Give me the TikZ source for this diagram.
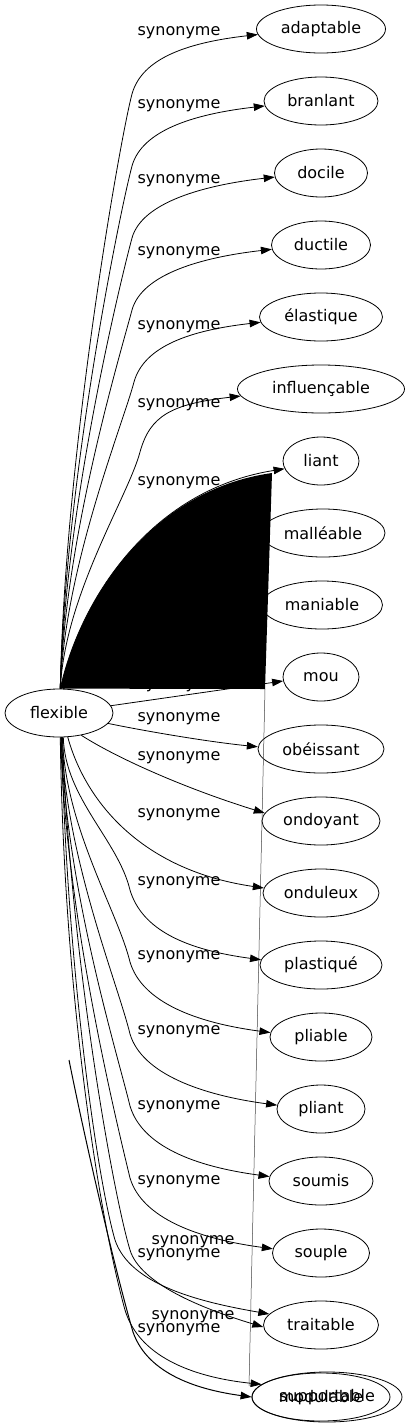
\documentclass[tikz,border=0pt]{standalone}
\usepackage{fontspec}
\setmainfont{DejaVu Sans}
\usetikzlibrary{shapes.geometric,arrows.meta}
\newcommand\synup[4]{%
  \draw[edge] (flexible.87) .. controls (65,{689-0.4*(689-#2)}) and ({#3-12},{#2+45}) .. (#3,#2) .. controls ({#3+10},{#2-36}) and +(-70,8) .. (#1.185);
  \node[lab] at (179,#4) {synonyme};}
\newcommand\syndown[5]{%
  \draw[edge] (flexible.#5) .. controls (65,{737+0.4*(#2-737)}) and ({#3-12},{#2-50}) .. (#3,#2) .. controls ({#3+12},{#2+40}) and +(-75,-10) .. (#1.175);
  \node[lab] at (179,#4) {synonyme};}
\begin{document}
\begin{tikzpicture}[x=1pt,y=-1pt,
  word/.style={ellipse,draw,line width=0.8pt,inner sep=0pt,minimum height=48pt,font=\fontsize{16}{19}\selectfont},
  edge/.style={draw,line width=0.8pt,-{Triangle[length=11pt,width=7.5pt]}},
  lab/.style={font=\fontsize{16}{19}\selectfont,inner sep=0pt}]
\useasboundingbox (0,0) rectangle (410,1427);
% nodes
\node[word,minimum width=108pt] (flexible) at (59,713) {flexible};
\node[word,minimum width=129pt] (adaptable) at (321,29) {adaptable};
\node[word,minimum width=114pt] (branlant) at (321,101) {branlant};
\node[word,minimum width=93pt] (docile) at (321,173) {docile};
\node[word,minimum width=99pt] (ductile) at (321,245) {ductile};
\node[word,minimum width=123pt] (elastique) at (321,317) {élastique};
\node[word,minimum width=167pt] (influencable) at (321,389) {influençable};
\node[word,minimum width=76pt] (liant) at (321,461) {liant};
\node[word,minimum width=124pt] (malleable) at (323,533) {malléable};
\node[word,minimum width=121pt] (maniable) at (322,605) {maniable};
\node[word,minimum width=76pt] (mou) at (321,677) {mou};
\node[word,minimum width=126pt] (obeissant) at (321,749) {obéissant};
\node[word,minimum width=118pt] (ondoyant) at (321,821) {ondoyant};
\node[word,minimum width=116pt] (onduleux) at (321,893) {onduleux};
\node[word,minimum width=122pt] (plastique) at (321,965) {plastiqué};
\node[word,minimum width=102pt] (pliable) at (321,1037) {pliable};
\node[word,minimum width=88pt] (pliant) at (321,1109) {pliant};
\node[word,minimum width=104pt] (soumis) at (321,1181) {soumis};
\node[word,minimum width=97pt] (souple) at (321,1253) {souple};
\node[word,minimum width=115pt] (traitable) at (321,1325) {traitable};
\node[word,minimum width=150pt,minimum height=50pt] (supportable) at (327,1397) {supportable};
\node[word,minimum width=138pt] (modulable) at (321,1397) {modulable};
% edges hidden under the black area
\draw[edge] (flexible.85) .. controls (90,640) and (180,560) .. (malleable.185);
\draw[edge] (flexible.80) .. controls (110,660) and (190,615) .. (maniable.185);
\node[lab] at (179,686) {synonyme};
% black area
\fill (flexible.87) .. controls (80,600) and (150,490) .. (272,473) -- (265,689) -- cycle;
\draw[edge] (flexible.87) .. controls (80,600) and (150,490) .. (liant.192);
\node[lab] at (179,483) {synonyme};
\draw[black!75,line width=0.5pt] (265,689) -- (249,1386);
% upper edges
\synup{adaptable}{94}{132}{33}
\synup{branlant}{166}{132}{106}
\synup{docile}{238}{132}{181}
\synup{ductile}{310}{132}{253}
\synup{elastique}{382}{134}{327}
\synup{influencable}{452}{140}{405}
% middle edges
\draw[edge] (flexible.8) -- (mou.186);
\draw[edge] (flexible.-12) .. controls (150,732) and (210,742) .. (obeissant.178);
\node[lab] at (179,719) {synonyme};
\draw[edge] (flexible.-45) .. controls (120,760) and (190,790) .. (ondoyant.172);
\node[lab] at (179,758) {synonyme};
\draw[edge] (flexible.-70) .. controls (85,800) and (140,870) .. (onduleux.175);
\node[lab] at (179,815) {synonyme};
% lower edges
\syndown{plastique}{890}{130}{883}{-80}
\syndown{pliable}{962}{130}{957}{-82}
\syndown{pliant}{1034}{130}{1032}{-84}
\syndown{soumis}{1106}{130}{1107}{-85}
\syndown{souple}{1178}{130}{1182}{-86}
% bottom edges
\coordinate (stray) at (69,1060);
\draw[edge] (flexible.-84) .. controls (66,950) and (95,1170) .. (115,1240) .. controls (130,1285) and (200,1302) .. (traitable.168);
\node[lab] at (193,1242) {synonyme};
\draw[edge] (flexible.-82) .. controls (70,950) and (112,1190) .. (130,1250) .. controls (140,1283) and (200,1308) .. (traitable.182);
\node[lab] at (179,1255) {synonyme};
\draw[edge] (flexible.-87) .. controls (64,1000) and (100,1220) .. (125,1310) .. controls (140,1360) and (200,1378) .. (modulable.168);
\node[lab] at (193,1317) {synonyme};
\draw[edge,line width=1pt] (stray) .. controls (85,1140) and (115,1270) .. (133,1332) .. controls (148,1375) and (200,1390) .. (modulable.180);
\node[lab] at (179,1330) {synonyme};
\end{tikzpicture}
\end{document}
